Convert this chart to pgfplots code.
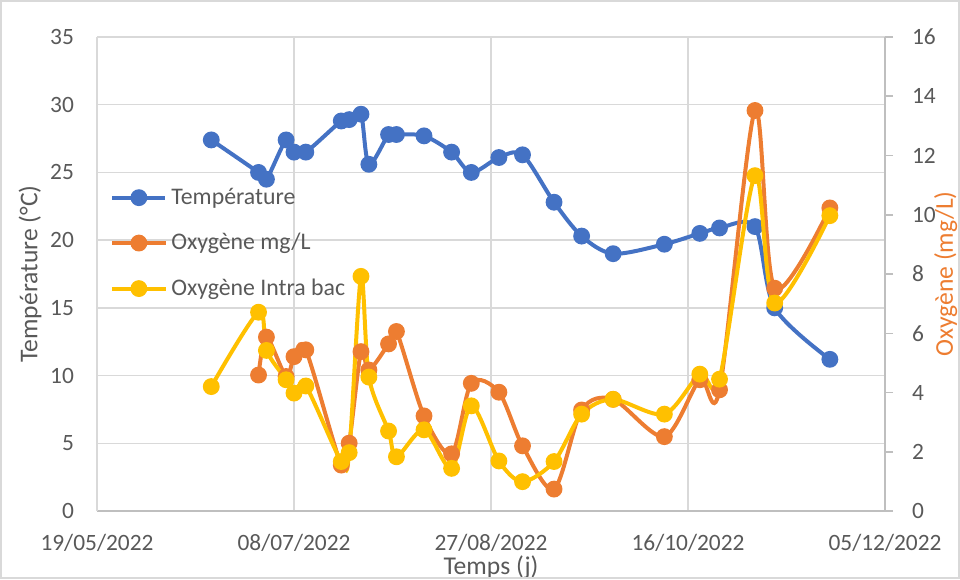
\documentclass[border=0pt]{standalone}
\usepackage{pgfplots}
\pgfplotsset{compat=1.18}
\usepackage{fontspec}
\setmainfont{Carlito}
\definecolor{cblue}{HTML}{4472C4}
\definecolor{corange}{HTML}{ED7D31}
\definecolor{cgold}{HTML}{FFC000}
\definecolor{ctext}{HTML}{595959}
\definecolor{cgrid}{HTML}{D9D9D9}
\definecolor{caxis}{HTML}{BFBFBF}

\pgfplotstableread{
day T
29 27.4
41 25.0
43 24.5
48 27.4
50 26.5
53 26.5
62 28.8
64 28.9
67 29.3
69 25.6
74 27.8
76 27.8
83 27.7
90 26.5
95 25.0
102 26.1
108 26.3
116 22.8
123 20.3
131 19.0
144 19.7
153 20.5
158 20.9
167 21.0
172 15.0
186 11.2
}\temptable

\pgfplotstableread{
day O
41 4.59
43 5.87
48 4.54
50 5.21
53 5.44
62 1.55
64 2.29
67 5.38
69 4.76
74 5.64
76 6.06
83 3.21
90 1.93
95 4.31
102 4.01
108 2.20
116 0.74
123 3.41
131 3.77
144 2.51
153 4.43
158 4.09
167 13.52
172 7.52
186 10.23
}\oxytable

\pgfplotstableread{
day O
29 4.20
41 6.71
43 5.42
48 4.43
50 3.98
53 4.22
62 1.67
64 1.97
67 7.92
69 4.52
74 2.70
76 1.83
83 2.74
90 1.44
95 3.55
102 1.69
108 0.99
116 1.67
123 3.27
131 3.77
144 3.27
153 4.62
158 4.45
167 11.32
172 7.02
186 9.97
}\intratable

\begin{document}
\begin{tikzpicture}
\pgfplotsset{
  common/.style={
    scale only axis, width=394pt, height=237pt,
    xmin=0, xmax=200,
    /pgf/number format/assume math mode=true,
    tick label style={font=\fontsize{11.7}{14}\selectfont, text=ctext},
  },
}
\begin{axis}[common,
  ymin=0, ymax=35, ytick={0,5,...,35},
  xtick={0,50,100,150,200},
  xticklabels={19/05/2022,08/07/2022,27/08/2022,16/10/2022,05/12/2022},
  axis x line*=bottom, axis y line*=left,
  x axis line style={caxis, line width=0.75pt},
  y axis line style={cgrid, line width=0.75pt},
  major tick length=0pt,
  grid=major, major grid style={cgrid, line width=0.75pt},
  xticklabel shift=8pt,
  yticklabel shift=8pt,
  xlabel={Temps (j)},
  ylabel={Température (°C)},
  every axis x label/.style={at={(axis description cs:0.5,-0.119)}, anchor=center, text=ctext, font=\fontsize{12.8}{15}\selectfont},
  every axis y label/.style={at={(axis description cs:-0.085,0.5)}, rotate=90, anchor=center, text=ctext, font=\fontsize{12.8}{15}\selectfont},
]
\addplot[cblue, line width=2pt, smooth, tension=0.5, mark=*, mark size=3.2pt, mark options={solid, fill=cblue, draw=cblue}] table[x=day, y=T] {\temptable};
\end{axis}

\begin{axis}[common,
  ymin=0, ymax=16, ytick={0,2,...,16},
  axis x line=none, axis y line*=right,
  y axis line style={caxis, line width=0.75pt},
  tick align=outside, major tick length=4pt,
  ytick style={caxis, line width=0.75pt},
  yticklabel shift=6pt,
  ylabel={Oxygène (mg/L)},
  every axis y label/.style={at={(axis description cs:1.077,0.5)}, rotate=90, anchor=center, text=corange, font=\fontsize{12.8}{15}\selectfont},
  legend style={at={(axis description cs:0.0165,0.565)}, anchor=west, draw=none, fill=none,
    font=\fontsize{11.9}{14}\selectfont, text=ctext, row sep=9pt, inner xsep=0pt, inner ysep=0pt},
  legend cell align=left,
  legend image code/.code={\draw[mark repeat=2,mark phase=2,#1] plot coordinates {(0pt,0pt) (13.25pt,0pt) (26.5pt,0pt)};},
]
\addlegendimage{cblue, line width=2pt, mark=*, mark size=3.2pt, mark options={solid, fill=cblue, draw=cblue}}
\addlegendentry{Température}
\addplot[corange, line width=2pt, smooth, tension=0.5, mark=*, mark size=3.2pt, mark options={solid, fill=corange, draw=corange}] table[x=day, y=O] {\oxytable};
\addlegendentry{Oxygène mg/L}
\addplot[cgold, line width=2pt, smooth, tension=0.5, mark=*, mark size=3.2pt, mark options={solid, fill=cgold, draw=cgold}] table[x=day, y=O] {\intratable};
\addlegendentry{Oxygène Intra bac}
\end{axis}
\pgfresetboundingbox
\path[use as bounding box] ([xshift=-48.5pt,yshift=-34pt]current axis.south west) rectangle ([xshift=37.5pt,yshift=18.5pt]current axis.north east);
\draw[cgrid, line width=0.75pt] ([xshift=-48pt,yshift=-33.5pt]current axis.south west) rectangle ([xshift=37pt,yshift=18pt]current axis.north east);
\end{tikzpicture}
\end{document}
